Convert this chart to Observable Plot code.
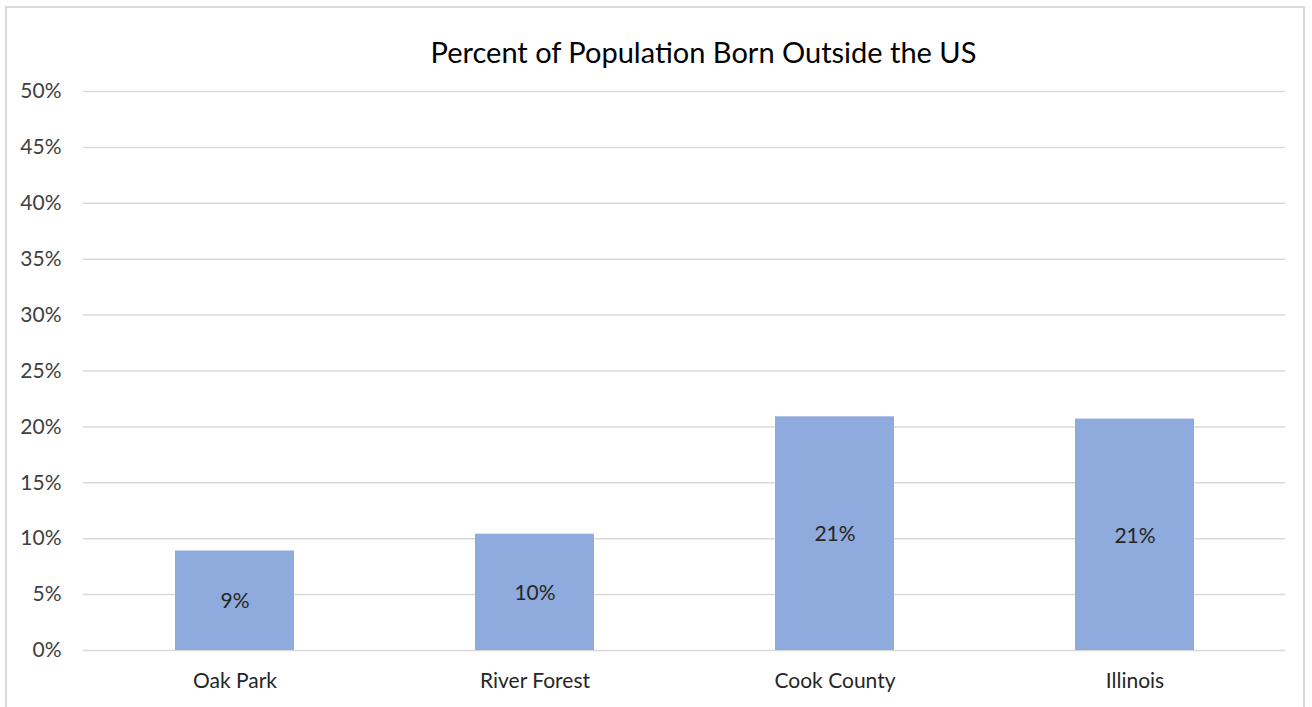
<!DOCTYPE html>
<html>
<head>
<meta charset="utf-8">
<script src="https://cdn.jsdelivr.net/npm/d3@7"></script>
<script src="https://cdn.jsdelivr.net/npm/@observablehq/plot@0.6"></script>
<style>
  html, body { margin: 0; padding: 0; background: #fff; }
  #wrap { position: relative; width: 1312px; height: 707px; overflow: hidden; font-family: Lato, "Open Sans", sans-serif; }
  #frame { position: absolute; left: 5px; top: 6px; width: 1300px; height: 720px; border: 2px solid #d9d9d9; box-sizing: border-box; }
  #title { position: absolute; left: 0; top: 34px; width: 1407px; text-align: center; font-size: 29px; color: #000; line-height: 36px; }
  #chart { position: absolute; left: 0; top: 0; }
</style>
</head>
<body>
<div id="wrap">
  <div id="frame"></div>
  <div id="title">Percent of Population Born Outside the US</div>
  <div id="chart"></div>
</div>
<script>
const categories = ["Oak Park", "River Forest", "Cook County", "Illinois"];
const values = [8.9, 10.4, 20.9, 20.7];
const yTicks = [0, 5, 10, 15, 20, 25, 30, 35, 40, 45, 50];

const data = categories.map((c, i) => ({category: c, value: values[i]}));

const plot = Plot.plot({
  width: 1312,
  height: 707,
  marginTop: 91,
  marginBottom: 57,
  marginLeft: 83,
  marginRight: 27,
  style: {fontFamily: "Lato, 'Open Sans', sans-serif", background: "transparent"},
  x: {domain: categories, paddingInner: 0.604, paddingOuter: 0.302, label: null},
  y: {domain: [0, 50], label: null},
  marks: [
    Plot.gridY(yTicks, {stroke: "#d9d9d9", strokeOpacity: 1, strokeWidth: 1.5}),
    Plot.barY(data, {x: "category", y: "value", fill: "#8faadc"}),
    Plot.text(data, {x: "category", y: d => d.value / 2, dy: 1, text: d => Math.round(d.value) + "%", fill: "#262626", fontSize: 21}),
    Plot.axisY(yTicks, {tickSize: 0, tickPadding: 22, tickFormat: d => d + "%", fontSize: 21, fill: "#404040", label: null}),
    Plot.axisX({tickSize: 0, tickPadding: 23, fontSize: 21, fill: "#262626", label: null})
  ]
});
document.getElementById("chart").appendChild(plot);
</script>
</body>
</html>
